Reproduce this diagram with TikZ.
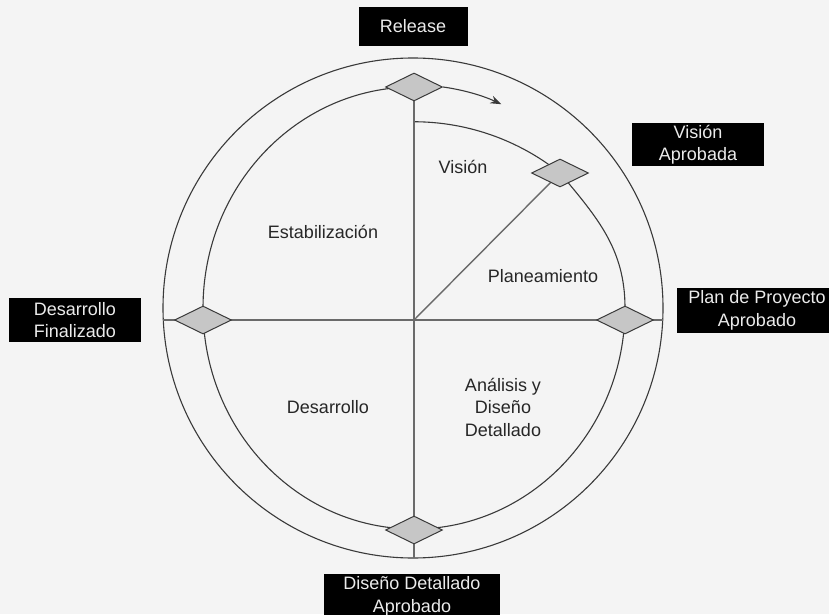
\documentclass[tikz,border=0pt]{standalone}
\usepackage{fontspec}
\setmainfont{Liberation Sans}
\usetikzlibrary{shapes.geometric,arrows.meta}
\pgfdeclarelayer{bg}
\pgfsetlayers{bg,main}
\definecolor{bgc}{HTML}{F4F4F4}
\definecolor{ringc}{HTML}{3A3A3A}
\definecolor{spokec}{HTML}{6A6A6A}
\definecolor{gemfill}{HTML}{C6C6C6}
\begin{document}
\begin{tikzpicture}[x=1pt,y=1pt,
  gem/.style={diamond, draw=ringc, fill=gemfill, line width=1pt, minimum width=57pt, minimum height=28pt, inner sep=0pt},
  tag/.style={fill=black, text=white!92!black, inner sep=0pt, align=center, font=\fontsize{18}{22.5}\selectfont},
  lbl/.style={text=black!85, inner sep=0pt, align=center, font=\fontsize{18}{22.5}\selectfont},
  ring/.style={draw=ringc, line width=1.1pt},
  spoke/.style={draw=spokec, line width=1.4pt}]
\useasboundingbox (0,0) rectangle (829,614);

% milestones
\node[gem] (T) at (414,527) {};
\node[gem] (V) at (560,441) {};
\node[gem] (R) at (625,294) {};
\node[gem] (B) at (414,84) {};
\node[gem] (L) at (203,294) {};
\coordinate (O) at (414,294);
\coordinate (OL) at (163.3,294);
\coordinate (OR) at (662.7,294);
\coordinate (OB) at (414,56);

% labels of milestones
\node[tag, minimum width=109pt, minimum height=39pt] (rel) at (413,587.5) {Release};
\node[tag, minimum width=132pt, minimum height=43pt] (va) at (698,469.5) {Visión\\Aprobada};
\node[tag, minimum width=160pt, minimum height=45pt] (ppa) at (757,303.5) {Plan de Proyecto\\Aprobado};
\node[tag, minimum width=132pt, minimum height=44pt] (df) at (75,294) {Desarrollo\\Finalizado};
\node[tag, minimum width=176pt, minimum height=46pt] (dda) at (412,17.5) {Diseño Detallado\\Aprobado};

% phase names
\node[lbl] (vis) at (463,447) {Visión};
\node[lbl] (est) at (323,382) {Estabilización};
\node[lbl] (pla) at (543,338) {Planeamiento};
\node[lbl] (des) at (328,207) {Desarrollo};
\node[lbl] (ana) at (503,207) {Análisis y\\Diseño\\Detallado};

\begin{pgfonlayer}{bg}
  \fill[bgc] (0,0) rectangle (829,614);
  % outer ring
  \draw[ring] (413,306) circle[radius=250pt];
  % inner ring
  \draw[ring] (T.center) arc[start angle=90, end angle=360, x radius=211pt, y radius=221pt]
    to[out=90, in=-50] (V.center);
  % vision arc
  \draw[ring] (V.center) arc[start angle=51.4, end angle=90, radius=234.5pt];
  % spokes
  \draw[spoke] (T.center) -- (B.center) -- (OB);
  \draw[spoke] (OL) -- (L.center) -- (R.center) -- (OR);
  \draw[spoke] (O) -- (V.center);
\end{pgfonlayer}
% arrow
\draw[ring, -{Stealth[length=11pt,width=8pt]}] (T.east) arc[start angle=82.5, end angle=66, x radius=211pt, y radius=221pt];
\end{tikzpicture}
\end{document}
